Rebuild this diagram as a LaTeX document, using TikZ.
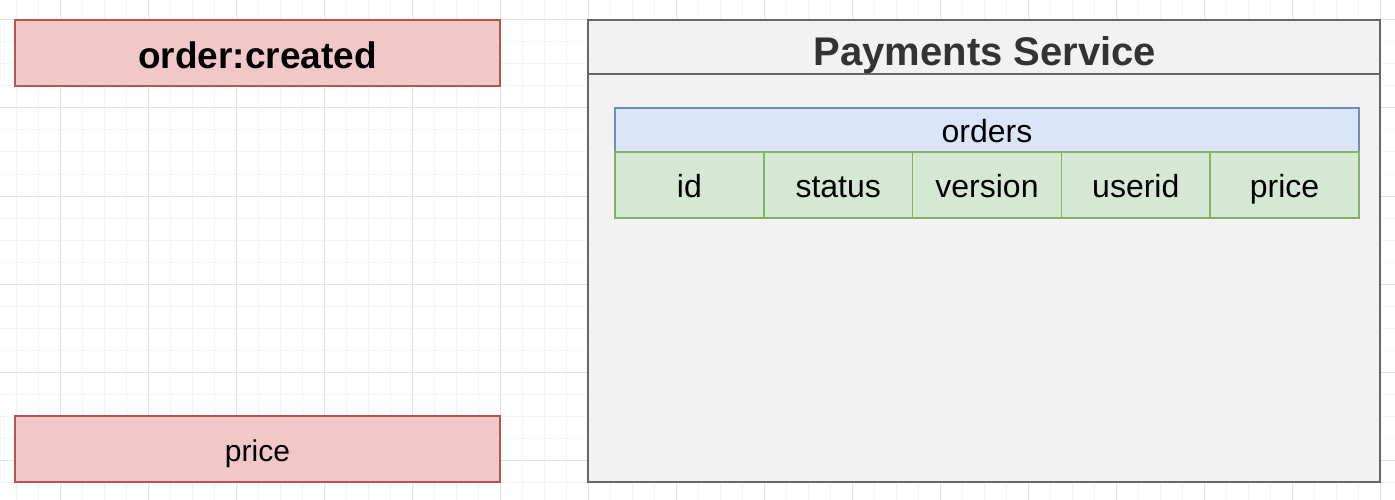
\documentclass[tikz,border=0pt]{standalone}
\usepackage{fontspec}
\setmainfont{Liberation Sans}
\definecolor{gridminor}{HTML}{F3F3F3}
\definecolor{gridmajor}{HTML}{E4E4E4}
\definecolor{evtfill}{HTML}{F0C8C7}
\definecolor{evtline}{HTML}{B85450}
\definecolor{svcfill}{HTML}{F2F2F2}
\definecolor{svcline}{HTML}{666666}
\definecolor{tblfill}{HTML}{DAE6F8}
\definecolor{tblline}{HTML}{6C8EBF}
\definecolor{colfill}{HTML}{D5E8D4}
\definecolor{colline}{HTML}{82B366}
\definecolor{titletext}{HTML}{333333}
\tikzset{
  evtbox/.style={draw=evtline, fill=evtfill, line width=1.5pt, inner sep=0pt,
    minimum width=485pt, minimum height=66pt},
  svcbox/.style={draw=svcline, fill=svcfill, line width=2pt, inner sep=0pt,
    minimum width=792pt, minimum height=462pt},
  tblhead/.style={draw=tblline, fill=tblfill, line width=1.5pt, inner sep=0pt,
    minimum width=744pt, minimum height=44pt,
    font=\fontsize{32}{38}\selectfont, text height=28.8pt, text depth=3.2pt},
  tblcol/.style={draw=colline, fill=colfill, line width=1.5pt, inner sep=0pt,
    minimum width=148.8pt, minimum height=66pt,
    font=\fontsize{32}{38}\selectfont, text height=28.8pt, text depth=3.2pt}
}
\begin{document}
\begin{tikzpicture}[x=1pt,y=-1pt]
\useasboundingbox (0,0) rectangle (1395,500);
\fill[white] (0,0) rectangle (1395,500);
% background grid
\foreach \gx in {16,38,...,1395} \draw[gridminor, line width=1pt] (\gx,0) -- (\gx,500);
\foreach \gy in {20,42,...,500} \draw[gridminor, line width=1pt] (0,\gy) -- (1395,\gy);
\foreach \gx in {60,148,...,1395} \draw[gridmajor, line width=1pt] (\gx,0) -- (\gx,500);
\foreach \gy in {20,108,...,500} \draw[gridmajor, line width=1pt] (0,\gy) -- (1395,\gy);

% event and its field
\node[evtbox, font=\fontsize{37}{44}\selectfont\bfseries, text height=34.3pt, text depth=2.7pt]
  (created) at (257.5,53) {order:created};
\node[evtbox, font=\fontsize{30}{36}\selectfont, text height=27pt, text depth=3pt]
  (price) at (257.5,449) {price};

% payments service
\node[svcbox] (svc) at (984,251) {};
\draw[svcline, line width=2pt] ([yshift=-55pt]svc.north west) -- ([yshift=-55pt]svc.north east);
\node[font=\fontsize{40}{48}\selectfont\bfseries, text=titletext, inner sep=0pt,
  text height=36pt, text depth=4pt] (svctitle) at (985,49.5) {Payments Service};

% orders table
\node[tblhead] (orders) at (987,130) {orders};
\foreach \colname [count=\i] in {id,status,version,userid,price}
  \node[tblcol] (col\i) at ({615+148.8*(\i-0.5)},185) {\colname};
\end{tikzpicture}
\end{document}
